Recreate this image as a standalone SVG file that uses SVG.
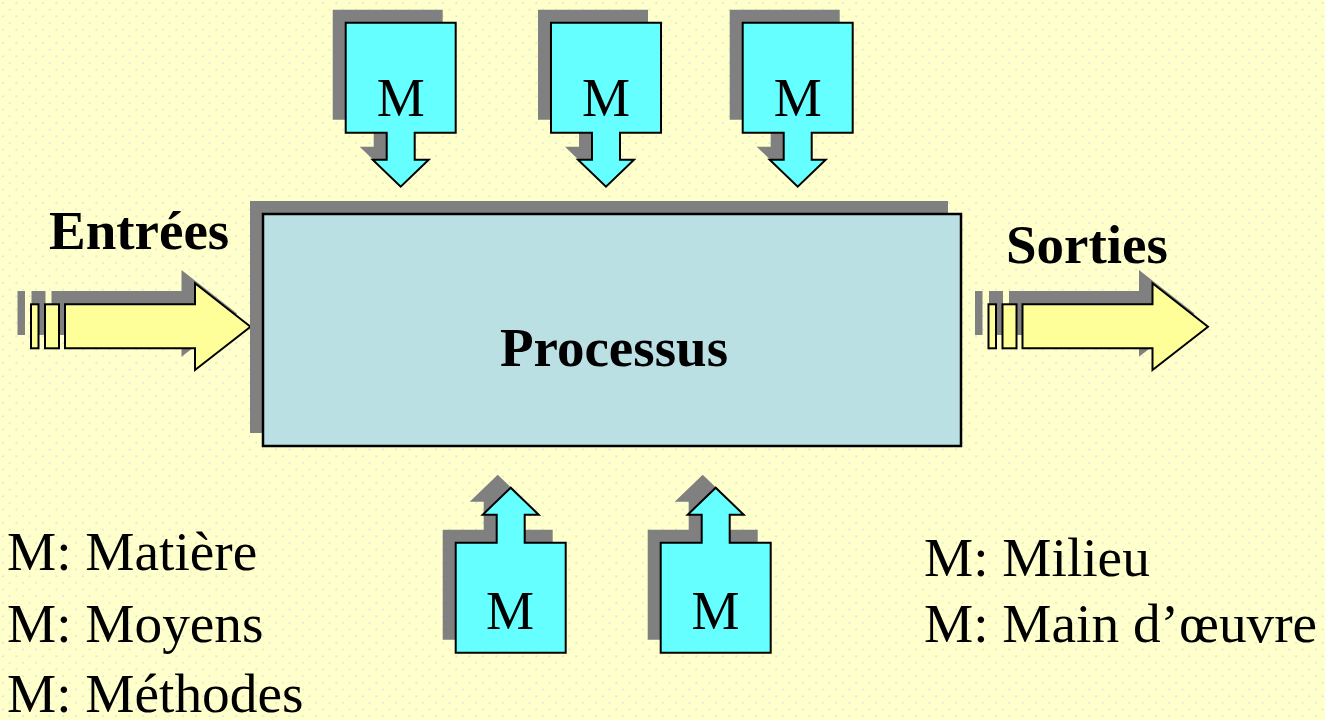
<svg xmlns="http://www.w3.org/2000/svg" width="1325" height="720" viewBox="0 0 1325 720">
  <style>
    .txt { font-family: "Liberation Serif", "Times New Roman", serif; font-size: 54px; fill: #000; }
    .bold { font-weight: bold; font-size: 55px; }
    .legend { font-size: 55.3px; }
    .shadow { fill: #808080; stroke: none; }
    .callout { fill: #66FFFF; stroke: #000; stroke-width: 2; stroke-linejoin: miter; }
    .flow { fill: #FFFF99; stroke: #000; stroke-width: 2; }
    .proc { fill: #BBE0E3; stroke: #000; stroke-width: 2.5; }
  </style>
  <defs>
    <pattern id="dots" width="13.33" height="13.33" patternUnits="userSpaceOnUse">
      <rect width="13.33" height="13.33" fill="#FFFFCC"/>
      <circle cx="3" cy="3" r="0.9" fill="#CFE3DA"/>
      <circle cx="9.67" cy="9.67" r="0.9" fill="#CFE3DA"/>
    </pattern>
    <path id="down" d="M0,0 H110 V110 H69 V137 H83 L55,164 L27,137 H41 V110 H0 Z"/>
    <path id="up" d="M0,0 H41 V-28 H27 L55,-55 L83,-28 H69 V0 H110 V110 H0 Z"/>
    <g id="flowArrow">
      <rect x="0" y="0" width="7.5" height="44"/>
      <rect x="14" y="0" width="14" height="44"/>
      <path d="M34,0 H164 V-21 L219.5,22.4 L164,65.7 V44 H34 Z"/>
    </g>
  </defs>

  <rect width="1325" height="720" fill="url(#dots)"/>

  <g id="connectors">
    <g id="entrees-arrow">
      <use href="#flowArrow" class="shadow" transform="translate(17.5,291)"/>
      <use href="#flowArrow" class="flow" transform="translate(31,304.3)"/>
    </g>
    <g id="sorties-arrow">
      <use href="#flowArrow" class="shadow" transform="translate(975,291)"/>
      <use href="#flowArrow" class="flow" transform="translate(988.5,304.3)"/>
    </g>
  </g>

  <g id="processus">
    <rect x="250" y="201" width="698" height="232" class="shadow"/>
    <rect x="263" y="214" width="698" height="232" class="proc"/>
    <text x="614" y="366" text-anchor="middle" class="txt bold">Processus</text>
  </g>

  <g id="m-top-1">
    <use href="#down" class="shadow" transform="translate(332.7,9.7)"/>
    <use href="#down" class="callout" transform="translate(345.7,22.7)"/>
    <text x="400.7" y="116" text-anchor="middle" class="txt">M</text>
  </g>
  <g id="m-top-2">
    <use href="#down" class="shadow" transform="translate(538,9.7)"/>
    <use href="#down" class="callout" transform="translate(551,22.7)"/>
    <text x="606" y="116" text-anchor="middle" class="txt">M</text>
  </g>
  <g id="m-top-3">
    <use href="#down" class="shadow" transform="translate(729.7,9.7)"/>
    <use href="#down" class="callout" transform="translate(742.7,22.7)"/>
    <text x="797.7" y="116" text-anchor="middle" class="txt">M</text>
  </g>
  <g id="m-bottom-1">
    <use href="#up" class="shadow" transform="translate(442.7,529.7)"/>
    <use href="#up" class="callout" transform="translate(455.7,542.7)"/>
    <text x="510" y="628.5" text-anchor="middle" class="txt">M</text>
  </g>
  <g id="m-bottom-2">
    <use href="#up" class="shadow" transform="translate(647.7,529.7)"/>
    <use href="#up" class="callout" transform="translate(660.7,542.7)"/>
    <text x="715.5" y="628.5" text-anchor="middle" class="txt">M</text>
  </g>

  <g id="labels">
    <text x="49" y="249" class="txt bold">Entrées</text>
    <text x="1006" y="263" class="txt bold">Sorties</text>
    <text x="7" y="570" class="txt legend">M: Matière</text>
    <text x="7" y="641.5" class="txt legend">M: Moyens</text>
    <text x="7" y="712" class="txt legend">M: Méthodes</text>
    <text x="924" y="576" class="txt legend">M: Milieu</text>
    <text x="924" y="641.5" class="txt legend">M: Main d’œuvre</text>
  </g>
</svg>
